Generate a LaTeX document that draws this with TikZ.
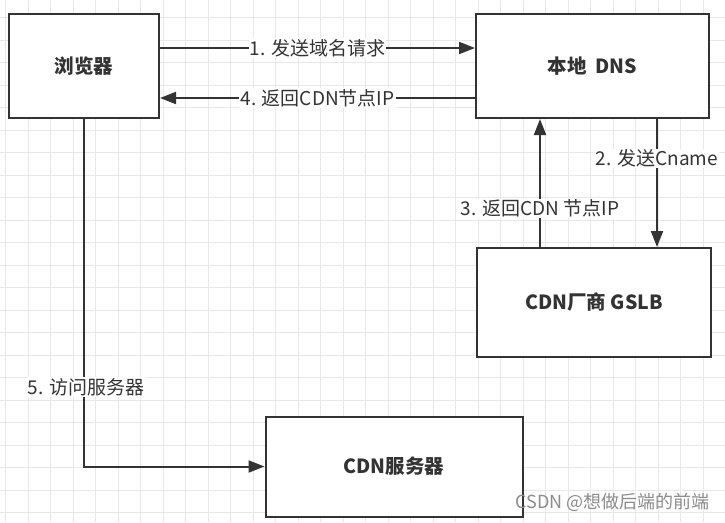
\documentclass[tikz,border=0pt]{standalone}
\usepackage{fontspec}
\setmainfont{Noto Sans CJK SC}
\usetikzlibrary{arrows.meta}
\definecolor{ink}{HTML}{333333}
\definecolor{gridc}{HTML}{E8E8E8}
\begin{document}
\begin{tikzpicture}[x=1pt,y=-1pt,
  box/.style={draw=ink,line width=2pt,fill=white,inner sep=0pt,text=ink,font=\fontsize{19.5}{22}\selectfont\bfseries},
  conn/.style={draw=ink,line width=2pt,-{Triangle[length=16pt,width=12pt]}},
  lbl/.style={fill=white,text=ink,inner sep=1pt,font=\fontsize{19}{22}\selectfont}]
\useasboundingbox (0,0) rectangle (725,522);
\fill[white] (0,0) rectangle (725,522);
\foreach \i in {0,...,32} {\draw[gridc,line width=0.8pt] (5.5+22.5*\i,0) -- (5.5+22.5*\i,522);}
\foreach \j in {0,...,23} {\draw[gridc,line width=0.8pt] (0,17.5+22.5*\j) -- (725,17.5+22.5*\j);}
\node[box,minimum width=150pt,minimum height=104pt] (br) at (84,66) {浏览器};
\node[box,minimum width=233pt,minimum height=104pt] (dns) at (592.5,66) {本地\ \ DNS};
\node[box,minimum width=234pt,minimum height=109pt] (gslb) at (594,302.5) {CDN厂商 GSLB};
\node[box,minimum width=257pt,minimum height=100pt] (srv) at (394,466.5) {CDN服务器};
\coordinate (a1s) at (br.east |- 0,48);
\coordinate (a1e) at (dns.west |- 0,48);
\draw[conn] (a1s) -- node[lbl,pos=0.5] {1. 发送域名请求} (a1e);
\coordinate (a4s) at (dns.west |- 0,98);
\coordinate (a4e) at (br.east |- 0,98);
\draw[conn] (a4s) -- node[lbl,pos=0.5] {4. 返回CDN节点IP} (a4e);
\coordinate (a2s) at (dns.south -| 657,0);
\coordinate (a2e) at (gslb.north -| 657,0);
\draw[conn] (a2s) -- node[lbl,pos=0.31] {2. 发送Cname} (a2e);
\coordinate (a3s) at (gslb.north -| 540,0);
\coordinate (a3e) at (dns.south -| 540,0);
\draw[conn] (a3s) -- node[lbl,pos=0.3] {3. 返回CDN 节点IP} (a3e);
\coordinate (a5c) at (br.south |- srv.west);
\draw[conn] (br.south) -- (a5c) -- (srv.west);
\node[lbl] (l5) at (86,387) {5. 访问服务器};
\node[text=black!45,font=\fontsize{18}{20}\selectfont,anchor=east,inner sep=0pt] (wm) at (710,502) {CSDN @想做后端的前端};
\end{tikzpicture}
\end{document}
